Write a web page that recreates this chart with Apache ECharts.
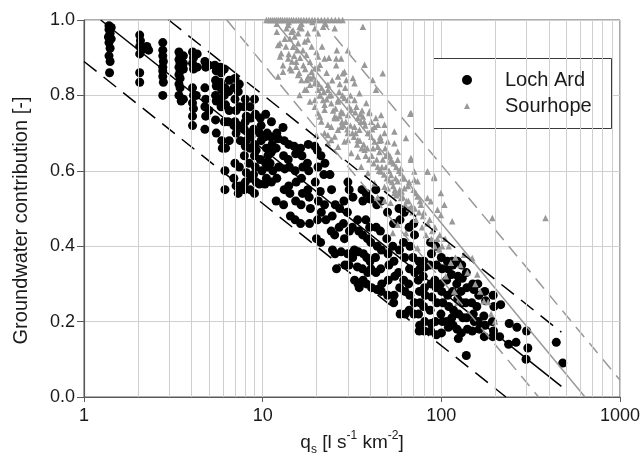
<!DOCTYPE html>
<html>
<head>
<meta charset="utf-8">
<script src="https://cdn.jsdelivr.net/npm/echarts@6/dist/echarts.min.js"></script>
<style>
  html, body { margin: 0; padding: 0; background: #fff; }
  #chart { width: 643px; height: 465px; }
</style>
</head>
<body>
<div id="chart"></div>
<script>
// Specific discharge q_s [l s^-1 km^-2] vs groundwater contribution [-]

const lochArd = [
  [1.38,0.985],[1.42,0.98],[1.38,0.975],[1.4,0.965],[1.37,0.955],[1.42,0.95],[1.38,0.94],[1.4,0.925],[1.38,0.905],[1.4,0.89],[1.39,0.86],
  [2.05,0.96],[2.07,0.945],[2.05,0.93],[2.1,0.92],[2.05,0.91],[2.05,0.86],[2.05,0.835],[2.25,0.93],[2.3,0.92],[2.2,0.925],
  [2.76,0.94],[2.76,0.92],[2.76,0.905],[2.78,0.89],[2.76,0.875],[2.76,0.865],[2.76,0.85],[2.78,0.835],[2.76,0.80],
  [3.4,0.915],[3.45,0.905],[3.4,0.895],[3.45,0.885],[3.4,0.875],[3.45,0.865],[3.4,0.855],[3.45,0.845],[3.4,0.83],[3.45,0.82],[3.4,0.80],[3.5,0.785],[3.6,0.905],[3.6,0.885],[3.6,0.87],[3.6,0.79],
  [4.05,0.915],[4.1,0.90],[4.05,0.885],[4.1,0.87],[4.05,0.82],[4.1,0.80],[4.05,0.78],[4.1,0.765],[4.05,0.745],[4.05,0.72],[4.3,0.91],[4.3,0.875],[4.25,0.80],
  [4.75,0.89],[4.8,0.875],[4.75,0.82],[4.8,0.79],[4.75,0.77],[4.8,0.745],[4.75,0.71],[5.0,0.88],[5.0,0.76],
  [5.4,0.88],[5.5,0.865],[5.45,0.84],[5.5,0.825],[5.45,0.80],[5.5,0.785],[5.45,0.735],[5.5,0.70],[5.8,0.875],[5.85,0.86],[5.8,0.835],[5.9,0.815],[5.8,0.79],[5.85,0.77],[5.9,0.68],[5.95,0.66],
  [6.1,0.87],[6.15,0.82],[6.1,0.80],[6.2,0.775],[6.1,0.73],[6.2,0.66],[6.15,0.60],[6.15,0.55],[6.5,0.84],[6.45,0.81],[6.5,0.76],[6.4,0.73],[6.5,0.68],
  [7.0,0.845],[6.9,0.82],[7.0,0.79],[7.1,0.76],[7.0,0.73],[6.9,0.72],[7.1,0.70],[7.0,0.62],[6.9,0.58],[7.1,0.56],[7.4,0.83],[7.3,0.81],[7.4,0.77],[7.3,0.72],[7.5,0.68],[7.4,0.61],[7.5,0.56],[7.3,0.54],
  [8.0,0.79],[7.9,0.77],[8.1,0.745],[8.0,0.73],[7.9,0.71],[8.1,0.68],[8.0,0.665],[7.9,0.64],[8.1,0.595],[8.0,0.57],[7.9,0.55],[8.5,0.77],[8.6,0.74],[8.4,0.70],[8.6,0.69],[8.5,0.66],[8.4,0.62],[8.6,0.58],[8.5,0.55],
  [9.0,0.79],[9.1,0.75],[8.9,0.71],[9.0,0.67],[9.2,0.655],[9.0,0.64],[9.1,0.61],[8.9,0.59],[9.2,0.57],[9.0,0.54],[9.7,0.74],[9.8,0.72],[9.6,0.70],[9.8,0.68],[9.7,0.63],[9.9,0.60],[9.6,0.565],
  [10.4,0.75],[10.6,0.70],[10.3,0.69],[10.5,0.66],[10.7,0.64],[10.4,0.62],[10.6,0.61],[10.5,0.58],[10.3,0.565],[11.2,0.73],[11.1,0.69],[11.3,0.67],[11.2,0.65],[11.0,0.62],[11.4,0.60],[11.2,0.57],
  [12.0,0.70],[12.2,0.685],[11.9,0.66],[12.3,0.61],[12.0,0.58],[11.9,0.52],
  [13.0,0.715],[13.2,0.68],[13.1,0.64],[13.3,0.605],[13.2,0.55],[13.1,0.51],
  [14.0,0.67],[13.9,0.63],[14.1,0.61],[14.0,0.56],[14.2,0.54],[14.3,0.48],
  [15.0,0.665],[15.3,0.645],[15.2,0.60],[15.4,0.57],[15.3,0.52],[15.2,0.47],
  [16.3,0.66],[16.6,0.64],[16.8,0.61],[16.5,0.58],[16.7,0.54],[16.4,0.51],[16.3,0.46],
  [18.0,0.67],[17.8,0.62],[18.1,0.60],[17.9,0.55],[18.2,0.53],[18.5,0.50],[18.3,0.46],
  [19.6,0.665],[20.2,0.655],[20.4,0.61],[19.7,0.57],[20.5,0.52],[20.3,0.47],[20.0,0.42],
  [21.2,0.64],[21.0,0.545],[21.3,0.49],[21.1,0.41],[22.3,0.62],[22.0,0.59],[22.2,0.51],[22.6,0.47],
  [23.8,0.59],[24.3,0.55],[24.5,0.48],[24.2,0.44],[24.6,0.39],[25.5,0.51],[25.3,0.43],[25.4,0.38],[25.9,0.34],
  [27.0,0.50],[26.8,0.45],[27.5,0.385],[28.5,0.52],[28.3,0.46],[28.7,0.42],[28.9,0.35],
  [30.0,0.57],[30.5,0.55],[29.8,0.49],[30.6,0.44],[29.9,0.38],[30.4,0.35],
  [32.0,0.53],[31.8,0.45],[32.6,0.39],[31.9,0.37],[32.7,0.31],
  [34.0,0.47],[34.5,0.44],[34.3,0.385],[33.9,0.345],[34.2,0.30],[34.7,0.29],
  [36.0,0.55],[36.4,0.52],[36.3,0.43],[36.6,0.38],[36.2,0.34],[36.5,0.31],
  [38.0,0.54],[37.8,0.47],[38.6,0.42],[38.2,0.37],[38.7,0.33],[38.1,0.30],
  [40.0,0.525],[39.7,0.45],[40.3,0.41],[39.9,0.36],[40.4,0.34],[40.7,0.29],
  [43.0,0.55],[43.5,0.51],[43.2,0.45],[43.8,0.40],[42.8,0.37],[43.1,0.33],[43.7,0.285],
  [46.0,0.52],[45.6,0.44],[46.2,0.39],[45.8,0.34],[46.4,0.30],[46.1,0.28],
  [50.0,0.49],[49.5,0.42],[50.3,0.38],[50.9,0.35],[50.4,0.31],[50.1,0.27],
  [54.0,0.46],[53.5,0.40],[54.3,0.36],[54.9,0.32],[54.4,0.27],[54.1,0.25],
  [58.0,0.50],[58.7,0.47],[58.3,0.39],[57.6,0.33],[58.5,0.29],[58.8,0.22],
  [62.0,0.49],[61.4,0.41],[62.3,0.37],[61.6,0.31],[62.5,0.28],[62.8,0.22],
  [66.0,0.45],[66.8,0.40],[66.4,0.34],[65.6,0.30],[66.6,0.27],[66.1,0.23],
  [70.0,0.46],[70.8,0.43],[69.4,0.37],[71.0,0.33],[70.6,0.25],[70.2,0.22],
  [75.0,0.36],[75.8,0.34],[74.3,0.31],[75.4,0.28],[76.0,0.25],[74.6,0.22],[75.6,0.19],[75.2,0.175],
  [80.0,0.36],[81.0,0.345],[79.2,0.32],[80.5,0.29],[81.2,0.27],[79.5,0.24],[80.7,0.20],[80.2,0.175],
  [87.0,0.41],[88.0,0.38],[86.0,0.35],[87.5,0.30],[88.5,0.265],[86.5,0.23],[87.8,0.195],[87.2,0.175],
  [93.0,0.40],[94.0,0.35],[92.0,0.31],[93.5,0.29],[94.5,0.25],[92.5,0.20],[93.8,0.165],
  [100,0.37],[101,0.34],[99,0.30],[100.5,0.28],[102,0.25],[99.5,0.22],[101.5,0.20],[100.2,0.17],
  [108,0.36],[109,0.34],[107,0.31],[108.5,0.27],[110,0.24],[107.5,0.20],[109.5,0.185],
  [115,0.36],[116,0.35],[114,0.325],[115.5,0.28],[117,0.23],[114.5,0.21],[116.5,0.19],
  [123,0.36],[124,0.32],[122,0.30],[123.5,0.26],[125,0.22],[122.5,0.18],[124.5,0.155],
  [130,0.35],[131,0.315],[129,0.28],[130.5,0.25],[132,0.21],[129.5,0.17],
  [138,0.33],[139,0.29],[137,0.25],[138.5,0.21],[140,0.18],[138,0.11],
  [150,0.30],[152,0.285],[148,0.25],[151,0.22],[153,0.20],[149,0.175],
  [160,0.30],[162,0.27],[158,0.24],[161,0.20],[163,0.18],
  [175,0.28],[177,0.255],[173,0.215],[176,0.19],[174,0.16],
  [195,0.27],[197,0.24],[193,0.20],[196,0.175],[194,0.16],
  [215,0.245],[212,0.16],[240,0.195],[238,0.14],[265,0.185],[262,0.145],[300,0.175],[305,0.13],[298,0.10],[440,0.145],[478,0.09]
];

const sourhope = [
  [10.5,1.0],[10.8,1.0],[11.1,1.0],[11.4,1.0],[11.7,1.0],[12.0,1.0],[12.3,1.0],[12.6,1.0],[12.9,1.0],[13.3,1.0],
  [13.7,1.0],[14.1,1.0],[14.5,1.0],[14.9,1.0],[15.4,1.0],[15.9,1.0],[16.4,1.0],[17.0,1.0],[17.6,1.0],[18.2,1.0],
  [18.9,1.0],[19.6,1.0],[20.4,1.0],[21.3,1.0],[22.2,1.0],[23.2,1.0],[24.3,1.0],[25.5,1.0],[26.7,1.0],[28.0,1.0],
  [12.0,0.99],[14.0,0.995],[16.5,0.99],[19.0,0.995],[22.5,0.99],
  [12.0,0.969],[12.5,0.938],[12.7,0.912],[12.2,0.850],[13.0,0.863],[13.9,0.987],[14.5,0.969],[15.1,0.956],[15.8,0.938],[14.8,0.929],
  [16.5,0.978],[16.8,0.92],[17.9,0.965],[17.6,0.907],[14.5,0.867],[15.4,0.876],[16.5,0.841],[18.4,0.828],[17.6,0.815],[19.6,0.872],
  [20.4,0.903],[20.9,0.881],[19.6,0.832],[20.9,0.801],[21.8,0.788],[23.2,0.815],[22.2,0.762],[24.2,0.779],[25.8,0.898],[27.5,0.898],
  [26.4,0.85],[28.7,0.863],[30.0,0.92],[29.4,0.841],[25.3,0.744],[26.4,0.788],[28.1,0.753],[30.0,0.788],[31.3,0.762],[32.7,0.832],
  [32.7,0.717],[34.1,0.682],[37.2,0.881],[36.4,0.744],[39.6,0.753],[41.3,0.841],[39.6,0.70],[43.1,0.815],[42.3,0.717],[44.1,0.664],
  [47.0,0.859],[46.0,0.682],[48.1,0.70],[50.1,0.647],[54.6,0.673],[52.3,0.629],[57.0,0.629],[59.5,0.594],[67.6,0.629],[67.6,0.753],
  [70.6,0.576],[83.7,0.598],[91.2,0.585],[99.4,0.541],[72.0,0.541],[30.0,0.682],[27.5,0.717],[31.3,0.647],[34.1,0.638],[37.2,0.656],
  [35.6,0.611],[38.8,0.594],[44.1,0.611],[42.3,0.567],[48.1,0.558],[54.6,0.541],[24.2,0.717],[23.2,0.673],[26.4,0.664],[25.3,0.691],
  [22.2,0.70],[20.9,0.744],[19.6,0.788],[20.0,0.695],[18.4,0.784],[36.4,0.982],
  [12.2,0.934],[13.6,0.978],[14.2,0.951],[14.8,0.973],[16.1,0.982],[17.9,0.948],[17.2,0.943],[19.6,0.978],[20.4,0.965],[21.8,0.982],
  [25.3,0.978],[12.5,0.903],[13.9,0.898],[15.4,0.889],[18.4,0.889],[14.2,0.872],[13.0,0.88],[15.8,0.854],[17.6,0.841],[18.8,0.863],
  [20.4,0.872],[22.2,0.898],[25.8,0.88],[28.1,0.859],[32.0,0.846],[20.4,0.815],[23.2,0.828],[24.2,0.801],[17.2,0.815],[16.1,0.801],
  [19.6,0.77],[22.2,0.775],[26.4,0.784],[28.7,0.793],[32.7,0.788],[34.8,0.806],[27.5,0.757],[30.0,0.748],[34.1,0.74],[25.3,0.74],
  [23.2,0.722],[20.4,0.753],[21.3,0.731],[26.4,0.709],[30.0,0.70],[34.8,0.709],[38.8,0.70],[44.1,0.722],[39.6,0.757],[42.3,0.678],
  [23.2,0.695],[24.2,0.682],[28.7,0.678],
  [67.0,0.751],[63.4,0.687],[67.6,0.634],[83.7,0.598],[91.2,0.581],[70.6,0.598],[57.0,0.651],[52.3,0.625],[48.1,0.722],[50.1,0.678],
  [54.6,0.704],[46.0,0.748],[59.5,0.607],[73.6,0.572],[57.0,0.572],[62.1,0.554],[50.1,0.554],[52.3,0.589],[46.0,0.598],
  [44,0.53],[48,0.52],[52,0.515],[56,0.535],[59.5,0.528],[73.6,0.532],[83.7,0.528],[87.4,0.519],[76.9,0.51],[95.2,0.497],
  [104,0.51],[99.4,0.483],[115,0.466],[193,0.475],[383,0.475],[57,0.457],[53.5,0.435],[63.4,0.435],[73.6,0.395],[97.3,0.391],
  [113,0.356],[134,0.377],[149,0.369],[159,0.325],[118,0.28],[173,0.254],[123,0.25],[106,0.32],[183,0.252],
  [33.5,0.77],[35.5,0.73],[37.5,0.72],[40.5,0.69],[41.5,0.66],[45.0,0.65],[47.0,0.63],[49.0,0.61],[51.0,0.60],[53.0,0.57],
  [55.5,0.58],[58.5,0.55],[61.0,0.53],[64.0,0.52],[66.0,0.50],[69.0,0.49],[72.0,0.47],[78.0,0.45],[82.0,0.43],[88.0,0.42],
  [92.0,0.40],[31.0,0.80],[29.0,0.82],[27.0,0.83],[36.0,0.76],[38.0,0.78],[40.5,0.73],[43.0,0.74],[45.5,0.69],[48.5,0.66],
  [51.5,0.64],[56.0,0.61],[60.5,0.58],[65.0,0.56],[70.0,0.55],[76.0,0.52],[80.0,0.49],[86.0,0.47],[92.0,0.45],[98.0,0.43],
  [105,0.42],[110,0.40],[120,0.37],[128,0.35],[140,0.33],[155,0.30],[165,0.28],[190,0.22],[200,0.20],
  [13.5,0.93],[14.0,0.91],[15.0,0.905],[15.6,0.92],[16.2,0.90],[16.9,0.88],[17.3,0.87],[18.0,0.85],[18.6,0.845],[19.2,0.85],
  [19.9,0.84],[20.6,0.83],[21.4,0.82],[21.0,0.80],[22.0,0.81],[22.8,0.79],[23.6,0.80],[24.8,0.76],[25.6,0.765],[26.0,0.74],
  [27.0,0.745],[27.8,0.73],[28.4,0.72],[29.2,0.73],[29.8,0.71],[31.0,0.72],[31.8,0.70],[32.4,0.69],[33.2,0.70],[33.8,0.67],
  [35.0,0.68],[35.8,0.66],[36.8,0.67],[37.8,0.64],[38.5,0.66],[39.5,0.63],[40.8,0.64],[41.8,0.62],[43.5,0.63],[44.8,0.60],
  [46.5,0.61],[47.8,0.59],[49.5,0.58],[51.0,0.575],[53.8,0.56],[55.0,0.55],[57.8,0.54],[60.0,0.545],[62.8,0.51],[65.5,0.52],
  [68.0,0.505],[71.0,0.50],[75.0,0.49],[79.0,0.48],[84.0,0.46],[89.0,0.44],[95.0,0.42],[101,0.40],[22.8,0.86],[24.5,0.84],
  [26.8,0.81],[28.0,0.80],[30.5,0.77],[33.0,0.755],[35.2,0.75],[37.0,0.73],[41.0,0.71],[45.0,0.68],[49.0,0.64],[54.0,0.62],
  [58.0,0.60],[62.0,0.58],[66.0,0.57],[16.0,0.86],[14.6,0.89],[13.3,0.95],[15.8,0.965],[18.8,0.93],[20.0,0.915],[21.5,0.93],
  [23.5,0.90],[26.0,0.92]
];

// Fitted relations (solid) and their bounds (dashed), end points on the plot
const lochArdFit   = [[1.24, 1.0], [470, 0.028]];
const lochArdLower = [[1.0, 0.89], [230, 0.0]];
const lochArdUpper = [[2.98, 1.0], [470, 0.172]];
const sourhopeFit   = [[11.5, 1.0], [637, 0.0]];
const sourhopeLower = [[6.3, 1.0], [350, 0.0]];
const sourhopeUpper = [[21.2, 1.0], [1000, 0.045]];

// Gridline positions between the decades
const minorGridQ = [2, 3, 4, 5, 6, 7, 8, 9, 20, 30, 40, 50, 60, 70, 80, 90, 200, 300, 400, 500, 600, 700, 800, 900];

const FONT = '"Liberation Sans", Arial, Helvetica, sans-serif';
const AXIS_GREY = '#5a5a5a';
const GRID_GREY = '#cfcfcf';
const SOURHOPE_GREY = '#999999';

function fitLine(data, color, dashed) {
  return {
    type: 'line',
    data: data,
    showSymbol: false,
    symbol: 'none',
    silent: true,
    z: 4,
    lineStyle: { color: color, width: 1.5, type: dashed || 'solid' },
    legendHoverLink: false
  };
}

const chart = echarts.init(document.getElementById('chart'), null, { renderer: 'canvas' });

chart.setOption({
  animation: false,
  backgroundColor: '#ffffff',
  textStyle: { fontFamily: FONT },
  grid: {
    left: 84, right: 19, top: 20, bottom: 68,
    show: true, borderColor: AXIS_GREY, borderWidth: 1, backgroundColor: 'transparent'
  },
  xAxis: {
    type: 'log',
    logBase: 10,
    min: 1,
    max: 1000,
    axisLine: { show: true, lineStyle: { color: AXIS_GREY, width: 1.2 } },
    axisTick: { show: true, length: 5, lineStyle: { color: AXIS_GREY } },
    axisLabel: {
      fontSize: 18, color: '#1a1a1a', margin: 10, fontFamily: FONT,
      formatter: function (v) { return String(Math.round(v)); }
    },
    splitLine: { show: true, lineStyle: { color: GRID_GREY, width: 1 } },
    name: '{b|q}{sub|s}{b| [l s}{sup|-1}{b| km}{sup|-2}{b|]}',
    nameLocation: 'middle',
    nameGap: 32,
    nameTextStyle: {
      rich: {
        b: { fontSize: 19, color: '#1a1a1a', fontFamily: FONT, lineHeight: 26, verticalAlign: 'middle' },
        sub: { fontSize: 12, color: '#1a1a1a', fontFamily: FONT, verticalAlign: 'bottom', lineHeight: 26 },
        sup: { fontSize: 12, color: '#1a1a1a', fontFamily: FONT, verticalAlign: 'top', lineHeight: 26 }
      }
    }
  },
  yAxis: {
    type: 'value',
    min: 0,
    max: 1,
    interval: 0.2,
    axisLine: { show: true, lineStyle: { color: AXIS_GREY, width: 1.2 } },
    axisTick: { show: true, length: 7, lineStyle: { color: AXIS_GREY } },
    axisLabel: {
      fontSize: 18, color: '#1a1a1a', margin: 9, fontFamily: FONT,
      formatter: function (v) { return v.toFixed(1); }
    },
    splitLine: { show: true, lineStyle: { color: GRID_GREY, width: 1 } },
    name: 'Groundwater contribution [-]',
    nameLocation: 'middle',
    nameGap: 53,
    nameTextStyle: { fontSize: 20, color: '#1a1a1a', fontFamily: FONT, padding: [0, 24, 0, 0] }
  },
  legend: [
    {
      data: [{ name: 'Loch Ard', icon: 'circle' }],
      left: 462, top: 70, padding: 0, itemGap: 0,
      itemWidth: 10, itemHeight: 10, selectedMode: false, z: 6,
      textStyle: { fontSize: 20, color: '#1a1a1a', fontFamily: FONT, padding: [0, 0, 0, 28] }
    },
    {
      data: [{ name: 'Sourhope', icon: 'triangle' }],
      left: 464, top: 96, padding: 0, itemGap: 0,
      itemWidth: 6, itemHeight: 6, selectedMode: false, z: 6,
      textStyle: { fontSize: 20, color: '#1a1a1a', fontFamily: FONT, padding: [0, 0, 0, 30] }
    }
  ],
  graphic: [
    {
      type: 'rect', z: 5, silent: true,
      shape: { x: 433.5, y: 58.5, width: 178, height: 70 },
      style: { fill: '#ffffff', stroke: '#3a3a3a', lineWidth: 1 }
    }
  ],
  series: [
    {
      // minor vertical gridlines at 2..9 of every decade
      type: 'line',
      data: [],
      z: 0,
      silent: true,
      markLine: {
        silent: true,
        symbol: ['none', 'none'],
        label: { show: false },
        lineStyle: { color: GRID_GREY, type: 'solid', width: 1 },
        emphasis: { disabled: true },
        animation: false,
        data: minorGridQ.map(function (q) { return { xAxis: q }; })
      }
    },
    {
      name: 'Loch Ard',
      type: 'scatter',
      data: lochArd,
      symbol: 'circle',
      symbolSize: 9,
      z: 2,
      itemStyle: { color: '#000000', opacity: 1 }
    },
    {
      name: 'Sourhope',
      type: 'scatter',
      data: sourhope,
      symbol: 'triangle',
      symbolSize: 6.5,
      z: 3,
      clip: false,
      itemStyle: { color: SOURHOPE_GREY, opacity: 1 }
    },
    fitLine(lochArdFit, '#000000'),
    fitLine(lochArdLower, '#000000', [16, 9]),
    fitLine(lochArdUpper, '#000000', [16, 9]),
    fitLine(sourhopeFit, SOURHOPE_GREY),
    fitLine(sourhopeLower, SOURHOPE_GREY, [13, 8]),
    fitLine(sourhopeUpper, SOURHOPE_GREY, [13, 8])
  ]
});
</script>
</body>
</html>
